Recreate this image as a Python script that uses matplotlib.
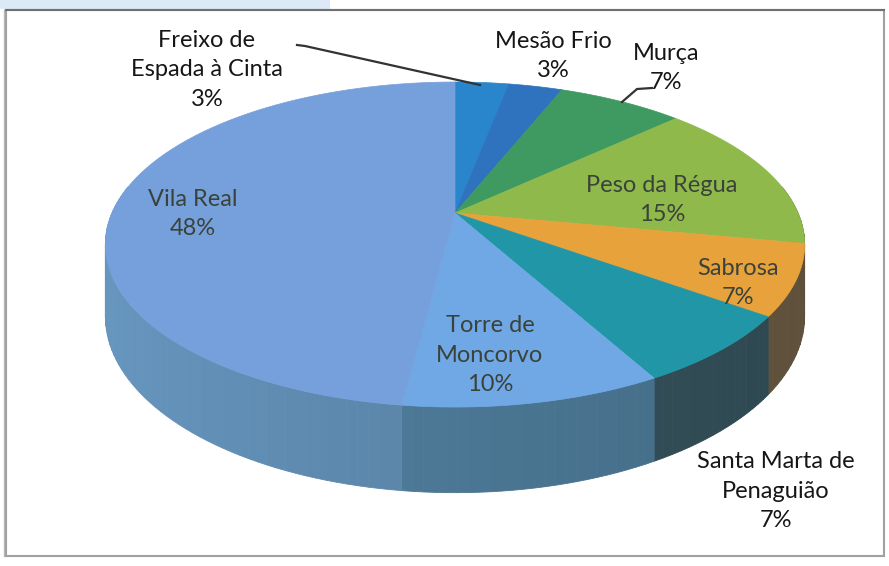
import numpy as np
import matplotlib
matplotlib.use("Agg")
import matplotlib.pyplot as plt
from matplotlib.patches import Polygon, Rectangle

# data
labels = ["Freixo de\nEspada à Cinta", "Mesão Frio", "Murça", "Peso da Régua",
          "Sabrosa", "Santa Marta de\nPenaguião", "Torre de\nMoncorvo", "Vila Real"]
shares = [3, 3, 7, 15, 7, 7, 10, 48]
top_colors = ["#2a86cc", "#2f72bd", "#3e9a60", "#8fb94b",
              "#e8a23c", "#2196a6", "#70a8e6", "#76a0dc"]
side_colors = ["#23618f", "#235a8c", "#2f6e4a", "#667f3a",
               "#6c5c44", "#35525c", "#4b7794", "#5a84a8"]

# label layout (pixels, image coords)
label_pos = [(207, 70), (553, 56), (666, 68), (662, 200),
             (738, 283), (776, 491), (490, 355), (193, 214)]
label_inside = [False, False, False, True, True, False, True, True]

W, H = 889, 566
# perspective pie geometry
CX, CY = 455.0, 213.0
A, B, K = 156.4, 343.0, 0.194
DEPTH = 69.0


def project(theta_deg, depth=0.0):
    t = np.radians(theta_deg)
    u, v = np.sin(t), np.cos(t)
    d = 1 + K * v
    return CX + B * u / d, CY - A * v / d + depth / d


def shade(color, f):
    rgb = np.array(matplotlib.colors.to_rgb(color))
    return tuple(np.clip(rgb * f, 0, 1))


fig = plt.figure(figsize=(W / 100, H / 100), dpi=100)
ax = fig.add_axes([0, 0, 1, 1])
ax.set_xlim(0, W)
ax.set_ylim(H, 0)
ax.axis("off")

# scan frame
ax.add_patch(Rectangle((0, 0), 330, 9, color="#dce9f6", lw=0, zorder=0))
ax.add_patch(Rectangle((6, 10), 878, 546, fill=False, ec="#a0a0a0", lw=1.5, zorder=1))
ax.plot([4, 4], [10, 556], color="#b8b8b8", lw=1, zorder=1)
ax.plot([6, 884], [10, 10], color="#707070", lw=1.5, zorder=1)

fractions = np.array(shares, dtype=float) / sum(shares)
edges = np.concatenate([[0], np.cumsum(fractions)]) * 360

# side walls (front half only, drawn in small strips for shading)
for i, color in enumerate(side_colors):
    t0, t1 = max(edges[i], 80), min(edges[i + 1], 280)
    if t1 <= t0:
        continue
    steps = np.linspace(t0, t1, max(int((t1 - t0) / 1.5), 1) + 1)
    for a, b in zip(steps[:-1], steps[1:]):
        ts = np.linspace(a, b, 4)
        tx, ty = project(ts)
        bx, by = project(ts[::-1], DEPTH)
        mid = np.radians((a + b) / 2)
        f = 1.0 - 0.14 * np.sin(mid)
        c = shade(color, f)
        ax.add_patch(Polygon(np.column_stack([np.r_[tx, bx], np.r_[ty, by]]),
                             closed=True, fc=c, ec=c, lw=0.6, zorder=2))

# top faces
for i, color in enumerate(top_colors):
    ts = np.linspace(edges[i], edges[i + 1], 80)
    x, y = project(ts)
    pts = np.column_stack([np.r_[CX, x], np.r_[CY, y]])
    ax.add_patch(Polygon(pts, closed=True, fc=color, ec=color, lw=0.5, zorder=3))

# labels
for i, name in enumerate(labels):
    x, y = label_pos[i]
    txt = f"{name}\n{shares[i]}%"
    ax.text(x, y, txt, ha="center", va="center", multialignment="center",
            fontsize=17, family=["Lato", "DejaVu Sans"], linespacing=1.5,
            color="#3a423a" if label_inside[i] else "#161616", zorder=5)

# leader lines
ax.plot([297, 305, 480], [45, 46, 85], color="#333333", lw=1.6, zorder=4)
ax.plot([622, 637, 652], [102, 89, 88], color="#333333", lw=1.6, zorder=4)

fig.savefig("out.png", dpi=100)
